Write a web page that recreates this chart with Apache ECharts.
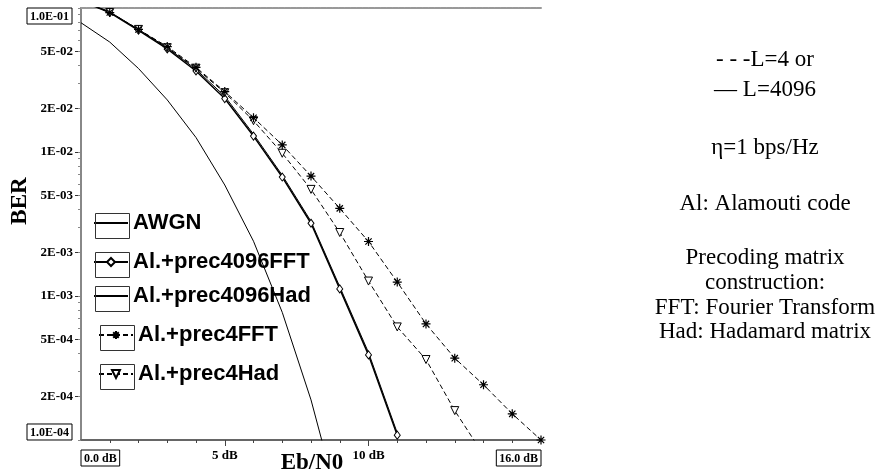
<!DOCTYPE html>
<html>
<head>
<meta charset="utf-8">
<script src="https://cdn.jsdelivr.net/npm/echarts@6/dist/echarts.min.js"></script>
<style>
html, body { margin: 0; padding: 0; background: #fff; }
#chart { width: 885px; height: 473px; }
</style>
</head>
<body>
<div id="chart"></div>
<script>
// Eb/N0 in dB, one point per dB
var ebno = [0, 1, 2, 3, 4, 5, 6, 7, 8, 9, 10, 11, 12, 13, 14, 15, 16];

// BER
var awgn = [0.079, 0.058, 0.038, 0.023, 0.0126, 0.0059, 0.0024, 0.00077, 0.00019, 0.000034];
var prec4096FFT = [0.112, 0.093, 0.070, 0.052, 0.0365, 0.0235, 0.0129, 0.0067, 0.0032, 0.00112, 0.00039, 0.000108];
var prec4096Had = [0.113, 0.094, 0.071, 0.053, 0.0375, 0.0244, 0.0133, 0.0069, 0.0033, 0.00116, 0.000405, 0.000112];
var prec4FFT = [0.113, 0.093, 0.071, 0.054, 0.0387, 0.0263, 0.0173, 0.0112, 0.0068, 0.00406, 0.00239, 0.00125, 0.00064, 0.00037, 0.000242, 0.000152, 0.0001];
var prec4Had = [0.113, 0.093, 0.071, 0.053, 0.0382, 0.0258, 0.0165, 0.0098, 0.0055, 0.00276, 0.00127, 0.00061, 0.000362, 0.00016, 0.000079];

var seriesNames = ['AWGN', 'Al.+prec4096FFT', 'Al.+prec4096Had', 'Al.+prec4FFT', 'Al.+prec4Had'];

// tick values
var yLabelTicks = [0.05, 0.02, 0.01, 0.005, 0.002, 0.001, 0.0005, 0.0002];
var yMinorTicks = [0.09, 0.08, 0.07, 0.06, 0.04, 0.03,
                   0.009, 0.008, 0.007, 0.006, 0.004, 0.003,
                   0.0009, 0.0008, 0.0007, 0.0006, 0.0004, 0.0003];
var yRightTicks = yLabelTicks.concat(yMinorTicks, [0.1, 0.0001]);
var xLabelTicks = [5, 10];
var xMinorTicks = [1, 2, 3, 4, 6, 7, 8, 9, 11, 12, 13, 14, 15];

var notes = ['- - -L=4 or', '\u2014 L=4096', '\u03b7=1 bps/Hz', 'Al: Alamouti code',
             'Precoding matrix', 'construction:', 'FFT: Fourier Transform', 'Had: Hadamard matrix'];
var noteY = [60, 90, 148, 204, 258, 283, 308, 332];

function pairs(arr) {
    return arr.map(function (v, i) { return [ebno[i], v]; });
}

function berLabel(v) {
    var e = Math.floor(Math.log10(v) + 1e-6);
    var m = Math.round(v / Math.pow(10, e));
    return m + 'E-0' + (-e);
}

var serif = '"Liberation Serif", "Times New Roman", serif';
var sans = '"Liberation Sans", Arial, sans-serif';
var starPath = 'path://M5,0L5,10M0,5L10,5M1.5,1.5L8.5,8.5M8.5,1.5L1.5,8.5';

var chart = echarts.init(document.getElementById('chart'));

var boxRich = {
    box: {borderColor: '#000', borderWidth: 1, padding: [3, 3, 1, 3],
          fontFamily: serif, fontWeight: 'bold', fontSize: 12, color: '#000'}
};

function logAxis(extra) {
    var a = {type: 'log', min: 0.0001, max: 0.1, position: 'left',
             axisLine: {show: false}, axisTick: {show: false},
             axisLabel: {show: false}, splitLine: {show: false}};
    return Object.assign(a, extra);
}

function dbAxis(extra) {
    var a = {type: 'value', min: 0, max: 16, position: 'bottom',
             axisLine: {show: false}, axisTick: {show: false},
             axisLabel: {show: false}, splitLine: {show: false}};
    return Object.assign(a, extra);
}

var legendTops = [212, 251, 285, 324, 363];
var legendLefts = [93, 93, 93, 98, 98];
var legendMarks = [false, true, false, true, true];

var legends = seriesNames.map(function (n, i) {
    var lg = {
        data: [n], orient: 'vertical', left: legendLefts[i], top: legendTops[i],
        padding: 0, itemWidth: 34, itemHeight: 10, selectedMode: false,
        textStyle: {fontFamily: sans, fontWeight: 'bold', fontSize: 22, color: '#000'}
    };
    if (!legendMarks[i]) {
        lg.itemStyle = {opacity: 0};
    }
    return lg;
});

var graphics = legendLefts.map(function (l, i) {
    return {type: 'rect', left: l, top: legendTops[i] - 1, shape: {width: 34, height: 25},
            style: {fill: 'none', stroke: '#333', lineWidth: 1}, z: 10};
});
graphics.push({
    type: 'text', x: 20, y: 201, rotation: Math.PI / 2,
    style: {text: 'BER', font: 'bold 23px ' + serif, align: 'center', verticalAlign: 'middle', fill: '#000'}
});
graphics.push({
    type: 'text', x: 312, y: 463,
    style: {text: 'Eb/N0', font: 'bold 23px ' + serif, align: 'center', verticalAlign: 'middle', fill: '#000'}
});
notes.forEach(function (t, i) {
    graphics.push({
        type: 'text', x: 765, y: noteY[i],
        style: {text: t, font: '23px ' + serif, align: 'center', verticalAlign: 'middle', fill: '#000'}
    });
});

var plain = {color: '#fff', borderColor: '#000', borderWidth: 1};

chart.setOption({
    animation: false,
    backgroundColor: '#fff',
    grid: {left: 81, right: 344, top: 8, bottom: 33, outerBoundsMode: 'none'},
    legend: legends,
    graphic: graphics,
    xAxis: [
        dbAxis({
            axisLine: {show: true, lineStyle: {color: '#666', width: 2}},
            axisTick: {show: true, length: 6, customValues: xLabelTicks, lineStyle: {color: '#444'}},
            axisLabel: {show: true, customValues: xLabelTicks, margin: 9,
                        fontFamily: serif, fontWeight: 'bold', fontSize: 13, color: '#000',
                        formatter: function (v) { return v + ' dB'; }}
        }),
        dbAxis({axisTick: {show: true, length: 3, customValues: xMinorTicks, lineStyle: {color: '#444'}}}),
        dbAxis({axisLabel: {show: true, customValues: [0], align: 'left', margin: 10,
                            formatter: function () { return '{box|0.0 dB}'; }, rich: boxRich}}),
        dbAxis({axisLabel: {show: true, customValues: [16], align: 'right', margin: 10,
                            formatter: function () { return '{box|16.0 dB}'; }, rich: boxRich}}),
        dbAxis({position: 'top',
                axisLine: {show: true, lineStyle: {color: '#999', width: 2, type: [5, 1]}}})
    ],
    yAxis: [
        logAxis({
            axisLine: {show: true, lineStyle: {color: '#000', width: 1.5}},
            axisTick: {show: true, length: 6, customValues: yLabelTicks, lineStyle: {color: '#333'}},
            axisLabel: {show: true, customValues: yLabelTicks, margin: 8,
                        fontFamily: serif, fontWeight: 'bold', fontSize: 13, color: '#000',
                        formatter: berLabel}
        }),
        logAxis({axisTick: {show: true, length: 3, customValues: yMinorTicks, lineStyle: {color: '#333'}}}),
        logAxis({axisLabel: {show: true, customValues: [0.0999999], verticalAlign: 'top', margin: 9,
                             formatter: function () { return '{box|1.0E-01}'; }, rich: boxRich}}),
        logAxis({axisLabel: {show: true, customValues: [0.0001000001], verticalAlign: 'bottom', margin: 9,
                             formatter: function () { return '{box|1.0E-04}'; }, rich: boxRich}}),
        logAxis({position: 'right',
                 axisLine: {show: true, lineStyle: {color: '#888', width: 2}},
                 axisTick: {show: true, inside: true, length: 3, customValues: yRightTicks,
                            lineStyle: {color: '#888'}}})
    ],
    series: [
        {name: seriesNames[0], type: 'line', data: pairs(awgn), symbol: 'none',
         lineStyle: {color: '#000', width: 1}, itemStyle: {color: '#000'}},
        {name: seriesNames[1], type: 'line', data: pairs(prec4096FFT), symbol: 'diamond', symbolSize: [6, 8],
         showAllSymbol: true, lineStyle: {color: '#000', width: 1.5}, itemStyle: plain},
        {name: seriesNames[2], type: 'line', data: pairs(prec4096Had), symbol: 'none',
         lineStyle: {color: '#000', width: 1}, itemStyle: {color: '#000'}},
        {name: seriesNames[4], type: 'line', data: pairs(prec4Had), symbol: 'triangle', symbolSize: 8,
         symbolRotate: 180, showAllSymbol: true, lineStyle: {color: '#000', width: 1, type: [5, 3]},
         itemStyle: plain},
        {name: seriesNames[3], type: 'line', data: pairs(prec4FFT), symbol: starPath, symbolSize: 9,
         showAllSymbol: true, z: 3, lineStyle: {color: '#000', width: 1, type: [5, 3]},
         itemStyle: {color: '#000', borderColor: '#000', borderWidth: 1.2}}
    ]
});
</script>
</body>
</html>
